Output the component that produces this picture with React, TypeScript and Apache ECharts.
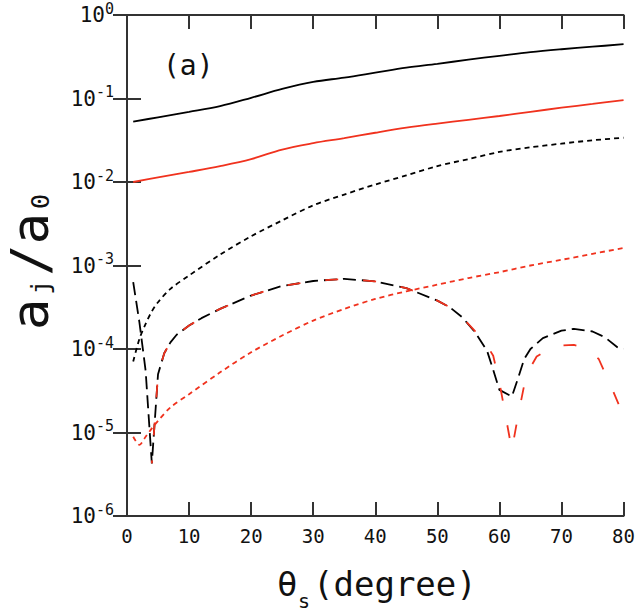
import React, { useEffect, useRef } from "react";
import * as echarts from "echarts";

// ---- data ----
const xTop = [1, 5, 10, 15, 20, 25, 30, 35, 40, 45, 50, 55, 60, 65, 70, 75, 80];
const blackSolid = [0.0527, 0.0596, 0.0692, 0.0813, 0.102, 0.13, 0.158, 0.178, 0.204, 0.234, 0.26, 0.292, 0.324, 0.359, 0.389, 0.417, 0.447];
const redSolid = [0.01, 0.01135, 0.0132, 0.0155, 0.0188, 0.0245, 0.0292, 0.0335, 0.0389, 0.0447, 0.0501, 0.0556, 0.0617, 0.0692, 0.0776, 0.0861, 0.0955];

const xDot = [1, 2, 3, 4, 5, 7, 10, 15, 20, 25, 30, 35, 40, 45, 50, 55, 60, 65, 70, 75, 80];
const blackDotted = [7.08e-5, 1.32e-4, 2.0e-4, 2.82e-4, 3.63e-4, 5.25e-4, 7.59e-4, 1.35e-3, 2.24e-3, 3.47e-3, 5.25e-3, 7.08e-3, 9.33e-3, 0.012, 0.0155, 0.0188, 0.0229, 0.026, 0.0288, 0.0316, 0.0339];
const redDotted = [8.9e-6, 7.1e-6, 8.9e-6, 1.12e-5, 1.38e-5, 2.0e-5, 2.88e-5, 5.25e-5, 9.12e-5, 1.45e-4, 2.19e-4, 3.02e-4, 3.98e-4, 4.9e-4, 5.89e-4, 7.08e-4, 8.32e-4, 1.0e-3, 1.17e-3, 1.38e-3, 1.62e-3];

const xBlackDash = [1, 2, 3, 4, 5, 6, 7, 8, 10, 12, 15, 20, 25, 30, 35, 40, 45, 50, 52, 54, 56, 58, 59, 60, 62, 63, 64, 65, 67, 70, 72, 75, 77, 79, 80];
const blackDashed = [6.31e-4, 2.09e-4, 5.5e-5, 4.27e-6, 5.0e-5, 8.9e-5, 1.2e-4, 1.48e-4, 1.91e-4, 2.34e-4, 3.02e-4, 4.37e-4, 5.69e-4, 6.52e-4, 6.92e-4, 6.46e-4, 5.37e-4, 3.8e-4, 3.16e-4, 2.4e-4, 1.62e-4, 9.55e-5, 5.62e-5, 3.24e-5, 2.69e-5, 4.47e-5, 7.59e-5, 1.0e-4, 1.35e-4, 1.66e-4, 1.74e-4, 1.62e-4, 1.38e-4, 1.05e-4, 1.0e-4];

const xRedDash = [4, 5, 6, 7, 8, 10, 12, 15, 20, 25, 30, 35, 40, 45, 50, 52, 54, 56, 57, 58, 59, 60, 61, 62, 63, 64, 65, 66, 68, 70, 72, 74, 76, 78, 80];
const redDashed = [4.27e-6, 5.0e-5, 8.9e-5, 1.2e-4, 1.48e-4, 1.91e-4, 2.34e-4, 3.02e-4, 4.37e-4, 5.69e-4, 6.52e-4, 6.92e-4, 6.46e-4, 5.37e-4, 3.8e-4, 3.16e-4, 2.4e-4, 1.66e-4, 1.38e-4, 1.1e-4, 8.3e-5, 3.98e-5, 1.58e-5, 6.17e-6, 1.58e-5, 3.72e-5, 6.03e-5, 8.13e-5, 1.0e-4, 1.1e-4, 1.12e-4, 1.02e-4, 7.59e-5, 3.55e-5, 1.58e-5];

const xTicks = { min: 0, max: 80, interval: 10 };
const yRange = { min: 1e-6, max: 1 };

const FONT = "DejaVu Sans Mono";
const RED = "#f0321e";
const AX = "#333";

const pairs = (xs: number[], ys: number[]) => xs.map((x, i) => [x, ys[i]]);

export default function App() {
  const ref = useRef<HTMLDivElement>(null);
  useEffect(() => {
    document.body.style.margin = "0";
    const chart = echarts.init(ref.current!, null, { renderer: "svg" });
    const tickStyle = { inside: true, length: 14, lineStyle: { color: AX, width: 2 } };
    const lineStyleAx = { color: AX, width: 2 };
    const line = (name: string, xs: number[], ys: number[], color: string, type: any, z: number, smooth: any, offset = 0) => ({
      name,
      type: "line",
      data: pairs(xs, ys),
      showSymbol: false,
      symbol: "none",
      smooth,
      z,
      lineStyle: { color, width: 1.8, type, dashOffset: offset },
    });
    chart.setOption({
      animation: false,
      grid: { left: 127, right: 10, top: 15, bottom: 97, containLabel: false },
      xAxis: [
        {
          type: "value", position: "bottom", ...xTicks,
          axisLine: { show: true, lineStyle: lineStyleAx },
          axisTick: tickStyle,
          axisLabel: { fontFamily: FONT, fontSize: 19, color: "#111", margin: 10 },
          splitLine: { show: false },
        },
        {
          type: "value", position: "top", ...xTicks,
          axisLine: { show: true, lineStyle: lineStyleAx },
          axisTick: tickStyle,
          axisLabel: { show: false },
          splitLine: { show: false },
        },
      ],
      yAxis: [
        {
          type: "log", logBase: 10, position: "left", ...yRange, splitNumber: 6,
          axisLine: { show: true, lineStyle: lineStyleAx },
          axisTick: tickStyle,
          minorTick: { show: false },
          splitLine: { show: false },
          axisLabel: {
            margin: 13,
            formatter: (v: number) => `{b|10}{s|${Math.round(Math.log10(v))}}`,
            rich: {
              b: { fontFamily: FONT, fontSize: 21, color: "#111" },
              s: { fontFamily: FONT, fontSize: 15, color: "#111", padding: [0, 0, 13, 0] },
            },
          },
        },
        {
          type: "log", logBase: 10, position: "right", ...yRange, splitNumber: 6,
          axisLine: { show: true, lineStyle: lineStyleAx },
          axisTick: tickStyle,
          minorTick: { show: false },
          splitLine: { show: false },
          axisLabel: { show: false },
        },
      ],
      series: [
        line("black solid", xTop, blackSolid, "#000", "solid", 5, 0.35),
        line("red solid", xTop, redSolid, RED, "solid", 5, 0.35),
        line("black dotted", xDot, blackDotted, "#000", [5, 4], 4, 0.3),
        line("red dotted", xDot, redDotted, RED, [5, 4], 4, 0.3),
        line("black dashed", xBlackDash, blackDashed, "#000", [13, 6], 3, false),
        line("red dashed", xRedDash, redDashed, RED, [13, 25], 3, false, 10),
      ],
      graphic: [
        {
          type: "text", left: 163, top: 51,
          style: { text: "(a)", font: `28px '${FONT}'`, fill: "#111" },
        },
        {
          type: "text", x: 30, y: 262, rotation: Math.PI / 2,
          style: {
            text: "{a|a}{s|j}{a|/a}{s|0}",
            align: "center", verticalAlign: "middle",
            rich: {
              a: { fontFamily: FONT, fontSize: 52, lineHeight: 52, fill: "#111", padding: [0, 2, 0, 2] },
              s: { fontFamily: FONT, fontSize: 25, lineHeight: 25, fill: "#111", padding: [20, 2, 0, 2] },
            },
          },
        },
        {
          type: "text", x: 277, y: 584,
          style: { text: "θ", font: `34px '${FONT}'`, fill: "#111", align: "left", verticalAlign: "middle" },
        },
        {
          type: "text", x: 298, y: 601,
          style: { text: "s", font: `20px '${FONT}'`, fill: "#111", align: "left", verticalAlign: "middle" },
        },
        {
          type: "text", x: 313, y: 584,
          style: { text: "(degree)", font: `34px '${FONT}'`, fill: "#111", align: "left", verticalAlign: "middle" },
        },
      ],
    });
    return () => chart.dispose();
  }, []);
  return <div ref={ref} style={{ width: 638, height: 613 }} />;
}
